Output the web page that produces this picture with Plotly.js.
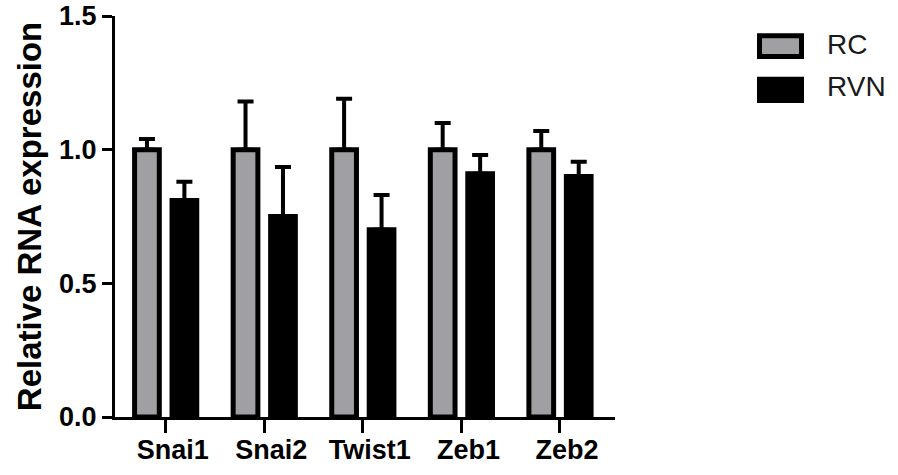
<!DOCTYPE html>
<html>
<head>
<meta charset="utf-8">
<script src="https://cdn.plot.ly/plotly-3.0.1.min.js"></script>
<style>html,body{margin:0;padding:0;background:#fff;}#chart{width:898px;height:475px;}</style>
</head>
<body>
<div id="chart"></div>
<script>
const categories = ['Snai1', 'Snai2', 'Twist1', 'Zeb1', 'Zeb2'];
const seriesNames = ['RC', 'RVN'];
const rcValues = [1.0, 1.0, 1.0, 1.0, 1.0];
const rcErrors = [0.04, 0.18, 0.19, 0.10, 0.07];
const rvnValues = [0.81, 0.75, 0.70, 0.91, 0.90];
const rvnErrors = [0.07, 0.185, 0.13, 0.07, 0.055];
const yTickVals = [0, 0.5, 1.0, 1.5];
const yTickText = ['0.0', '0.5', '1.0', '1.5'];

const FONT = 'Arial, "Liberation Sans", sans-serif';
const GRAY = '#a0a0a4';

function barTrace(name, vals, errs, fill) {
  return {
    type: 'bar', name: name, x: categories, y: vals,
    marker: {color: fill, line: {color: '#000', width: 5}},
    error_y: {type: 'data', symmetric: false, array: errs,
              arrayminus: errs.map(() => 0), color: '#000', thickness: 4, width: 8},
    showlegend: false, hoverinfo: 'skip'
  };
}

const data = [
  barTrace(seriesNames[0], rcValues, rcErrors, GRAY),
  barTrace(seriesNames[1], rvnValues, rvnErrors, '#000')
];

const legendFills = [GRAY, '#000'];
const legendY = [[0.899, 0.951, 0.930], [0.789, 0.842, 0.823]];
const shapes = seriesNames.map((n, i) => ({
  type: 'rect', xref: 'paper', yref: 'paper',
  x0: 1.289, x1: 1.373, y0: legendY[i][0], y1: legendY[i][1],
  fillcolor: legendFills[i], line: {color: '#000', width: 5}
}));
const annotations = seriesNames.map((n, i) => ({
  text: n, xref: 'paper', yref: 'paper', x: 1.42, y: legendY[i][2],
  xanchor: 'left', yanchor: 'middle', showarrow: false,
  font: {family: FONT, size: 28, color: '#1a1a1a'}
}));

const layout = {
  width: 898, height: 475,
  margin: {l: 115, r: 283, t: 16, b: 58, pad: 0},
  paper_bgcolor: '#fff', plot_bgcolor: '#fff',
  barmode: 'group', bargap: 0.24, bargroupgap: 0.34,
  showlegend: false,
  xaxis: {
    type: 'category', range: [-0.514, 4.558],
    showline: true, linecolor: '#000', linewidth: 3,
    ticks: 'outside', ticklen: 13, tickwidth: 3, tickcolor: '#000',
    showgrid: false, zeroline: false, ticklabelshift: 7, ticklabelstandoff: -6,
    tickfont: {family: FONT, size: 27, color: '#000', weight: 'bold'}
  },
  yaxis: {
    range: [0, 1.5], tickvals: yTickVals, ticktext: yTickText,
    showline: true, linecolor: '#000', linewidth: 3,
    ticks: 'outside', ticklen: 10, tickwidth: 3, tickcolor: '#000',
    showgrid: false, zeroline: false,
    tickfont: {family: FONT, size: 27, color: '#000', weight: 'bold'},
    title: {text: 'Relative RNA expression', standoff: 8,
            font: {family: FONT, size: 33, color: '#000', weight: 'bold'}}
  },
  shapes: shapes,
  annotations: annotations
};

Plotly.newPlot('chart', data, layout, {displayModeBar: false, staticPlot: true});
</script>
</body>
</html>
